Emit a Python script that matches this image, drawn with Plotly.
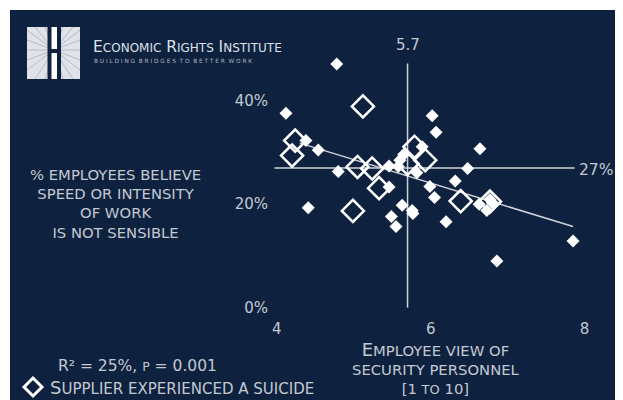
import plotly.graph_objects as go

# ---------------- data ----------------
# firms without a suicide (filled diamonds): security view [1-10], % not sensible
plain_x = [4.78, 4.12, 4.38, 4.54, 4.80, 4.41, 5.46, 5.60, 5.58, 5.65, 5.46, 5.49, 5.55, 5.63,
           5.76, 5.77, 5.82, 6.02, 6.07, 5.89, 5.99, 6.05, 6.20, 6.32, 6.48, 6.64, 6.63, 6.77,
           6.73, 6.80, 6.86, 7.85]
plain_y = [47.1, 37.6, 32.3, 30.5, 26.3, 19.3, 27.4, 28.5, 27.3, 29.6, 23.3, 17.6, 15.7, 19.8,
           18.8, 18.2, 26.1, 37.1, 33.9, 31.1, 23.4, 21.3, 16.6, 24.5, 26.9, 30.7, 20.0, 20.9,
           18.8, 20.3, 9.0, 12.9]

# firms where the supplier experienced a suicide (open diamonds)
suicide_x = [5.12, 4.24, 4.20, 5.05, 5.24, 5.33, 4.99, 5.79, 5.93, 5.70, 6.39, 6.77]
suicide_y = [38.9, 32.3, 29.4, 27.2, 26.9, 23.1, 18.7, 31.1, 28.5, 27.8, 20.6, 20.5]

# fitted trend line end points
trend_x = [4.30, 7.85]
trend_y = [31.8, 15.7]

# reference lines (averages)
avg_x = 5.7
avg_y = 27
vline_y = [0, 47.2]
hline_x = [3.97, 7.87]

y_ticks = [0, 20, 40]
y_labels = ['0%', '20%', '40%']
x_ticks = [4, 6, 8]

NAVY = '#0e2240'
LINE = '#cfd3da'
TXT = '#c3c8d1'
FONT = 'DejaVu Sans'

# the page has an 8px body margin, so work in page pixels and shift
OFF = 8
W, H = 623 - OFF, 400 - OFF
PLOT_L, PLOT_R, PLOT_T, PLOT_B = 269, 600, 49, 318   # plot area, page pixels
PW, PH = PLOT_R - PLOT_L, PLOT_B - PLOT_T


def px(X):
    return (X - PLOT_L) / PW


def py(Y):
    return (PLOT_B - Y) / PH


def smallcaps(text, big, small):
    # upper-case letters stay large, the rest are set as small capitals
    out = ''
    for ch in text:
        if ch.isupper():
            out += f'<span style="font-size:{big}px">{ch}</span>'
        elif ch.isalpha():
            out += f'<span style="font-size:{small}px">{ch.upper()}</span>'
        else:
            out += ch
    return out


fig = go.Figure()

# average lines
fig.add_trace(go.Scatter(x=[avg_x, avg_x], y=vline_y, mode='lines',
                         line=dict(color=LINE, width=1.5), hoverinfo='skip'))
fig.add_trace(go.Scatter(x=hline_x, y=[avg_y, avg_y], mode='lines',
                         line=dict(color=LINE, width=1.5), hoverinfo='skip'))
# trend line
fig.add_trace(go.Scatter(x=trend_x, y=trend_y, mode='lines',
                         line=dict(color=LINE, width=1.5), hoverinfo='skip'))

fig.add_trace(go.Scatter(x=plain_x, y=plain_y, mode='markers',
                         marker=dict(symbol='diamond', size=10, color='white')))
fig.add_trace(go.Scatter(x=suicide_x, y=suicide_y, mode='markers',
                         marker=dict(symbol='diamond-open', size=17, color='white',
                                     line=dict(color='white', width=2.5))))

# ---------------- background panel and logo ----------------
shapes = [dict(type='rect', xref='paper', yref='paper', layer='below',
               x0=px(10), x1=px(640), y0=py(420), y1=py(10),
               fillcolor=NAVY, line=dict(width=0))]

# logo: light square with rays and a dark "H"
shapes.append(dict(type='rect', xref='paper', yref='paper', x0=px(27), x1=px(80),
                   y0=py(79), y1=py(27), fillcolor='#dfe2e7', line=dict(width=0)))
cx, cy = 54, 50
for ex, ey in [(27, 30), (27, 40), (27, 50), (27, 60), (27, 70), (35, 27), (45, 27),
               (63, 27), (73, 27), (80, 30), (80, 40), (80, 50), (80, 60), (80, 70),
               (35, 79), (45, 79), (63, 79), (73, 79)]:
    shapes.append(dict(type='line', xref='paper', yref='paper', x0=px(cx), y0=py(cy),
                       x1=px(ex), y1=py(ey), line=dict(color='#9aa1ac', width=0.6)))
shapes.append(dict(type='rect', xref='paper', yref='paper', x0=px(51), x1=px(57),
                   y0=py(79), y1=py(27), fillcolor='white', line=dict(width=0)))
for x0, x1 in [(47.5, 51.5), (57, 61)]:
    shapes.append(dict(type='rect', xref='paper', yref='paper', x0=px(x0), x1=px(x1),
                       y0=py(79), y1=py(27), fillcolor=NAVY, line=dict(width=0)))
shapes.append(dict(type='rect', xref='paper', yref='paper', x0=px(51), x1=px(57),
                   y0=py(53), y1=py(49), fillcolor=NAVY, line=dict(width=0)))

# legend key: open diamond
kx, ky, kr = 33, 387, 9
shapes.append(dict(type='path', xref='paper', yref='paper',
                   path=(f'M {px(kx - kr)} {py(ky)} L {px(kx)} {py(ky - kr)} '
                         f'L {px(kx + kr)} {py(ky)} L {px(kx)} {py(ky + kr)} Z'),
                   line=dict(color='white', width=3)))

annotations = []


def note(text, X, Y, size, xanchor='center', color=TXT, align='center'):
    annotations.append(dict(text=text, x=px(X), y=py(Y), xref='paper', yref='paper',
                            xanchor=xanchor, yanchor='middle', showarrow=False, align=align,
                            font=dict(family=FONT, size=size, color=color)))


note(smallcaps('Economic Rights Institute', 15.5, 12), 91, 47, 15, xanchor='left', color='#dde0e6')
note('B U I L D I N G  B R I D G E S  T O  B E T T E R  W O R K', 92, 61, 5.8,
     xanchor='left', color='#aeb4bf')

note('% EMPLOYEES BELIEVE<br>SPEED OR INTENSITY<br>OF WORK<br>IS NOT SENSIBLE', 115, 203, 14.8)
note(smallcaps('Employee view of', 18, 14.8) + '<br>' + smallcaps('security personnel', 14.8, 14.8)
     + '<br>[1 ' + smallcaps('to', 13, 13) + ' 10]', 436, 368, 14.8)
note('R² = 25%, ' + smallcaps('p', 15, 12.5) + ' = 0.001', 56, 366, 15.5, xanchor='left')
note(smallcaps('Supplier experienced a suicide', 18, 15), 48, 387, 15, xanchor='left')
note('5.7', 408, 45, 15)
note('27%', 577, 170, 15.5, xanchor='left')

fig.update_layout(
    width=W, height=H,
    margin=dict(l=PLOT_L - OFF, r=623 - PLOT_R, t=PLOT_T - OFF, b=400 - PLOT_B),
    paper_bgcolor='white', plot_bgcolor='rgba(0,0,0,0)',
    showlegend=False,
    shapes=shapes, annotations=annotations,
    font=dict(family=FONT, color=TXT),
    xaxis=dict(range=[3.9, 8.2], tickvals=x_ticks, showgrid=False, zeroline=False,
               showline=False, tickfont=dict(size=15, color=TXT), ticks=''),
    yaxis=dict(range=[-2, 50], tickvals=y_ticks, ticktext=y_labels, showgrid=False,
               zeroline=False, showline=False, tickfont=dict(size=15, color=TXT), ticks=''),
)

fig.write_html("out.html")
